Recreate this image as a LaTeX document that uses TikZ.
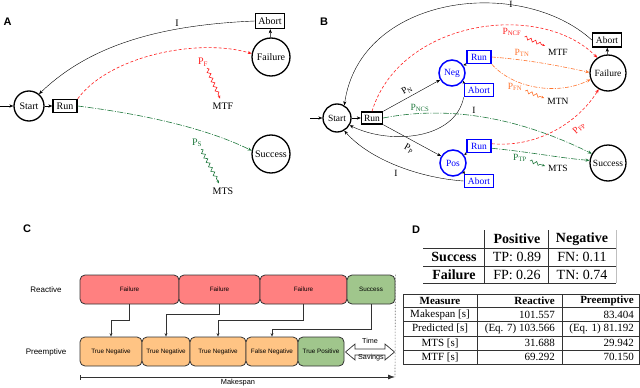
\documentclass[tikz,border=0pt]{standalone}
\usepackage{fontspec}
\setmainfont{Liberation Serif}
\newfontfamily\arialf{Liberation Sans}
\usetikzlibrary{arrows.meta,decorations.pathmorphing,calc}
\definecolor{cred}{RGB}{255,30,30}
\definecolor{cgreen}{RGB}{30,120,60}
\definecolor{corange}{RGB}{255,115,45}
\definecolor{fred}{RGB}{255,128,128}
\definecolor{fgreen}{RGB}{160,198,140}
\definecolor{forange}{RGB}{255,196,132}
\definecolor{cline}{RGB}{50,50,50}
\begin{document}
\begin{tikzpicture}[x=1pt,y=-1pt,
  >={Stealth[length=4pt,width=3.2pt]},
  panlab/.style={font=\arialf\bfseries\fontsize{11}{12}\selectfont},
  stA/.style={circle,draw,line width=1.3pt,inner sep=0pt,font=\fontsize{10}{11}\selectfont},
  bxA/.style={rectangle,draw,line width=1.4pt,inner sep=0pt,font=\fontsize{10}{11}\selectfont},
  stB/.style={circle,draw,line width=1.3pt,inner sep=0pt,font=\fontsize{9.5}{10}\selectfont},
  bxB/.style={rectangle,draw,line width=1.4pt,inner sep=0pt,font=\fontsize{9.5}{10}\selectfont},
  blc/.style={circle,draw=blue,text=blue,line width=1.5pt,inner sep=0pt,minimum size=26pt,font=\fontsize{9.5}{10}\selectfont},
  blb/.style={rectangle,draw=blue,text=blue,line width=1.6pt,inner sep=0pt,minimum height=13pt,font=\fontsize{9.5}{10}\selectfont},
  txA/.style={font=\fontsize{10}{11}\selectfont,inner sep=1pt},
  txB/.style={font=\fontsize{9.5}{10}\selectfont,inner sep=1pt},
  reddash/.style={cred,dash pattern=on 3pt off 2pt,line width=0.6pt},
  grndash/.style={cgreen,dash pattern=on 6pt off 1.5pt on 1pt off 1.5pt,line width=0.6pt},
  orgdash/.style={corange,dash pattern=on 4pt off 1.5pt on 1pt off 1.5pt,line width=0.6pt},
  snk/.style={decorate,decoration={snake,amplitude=1.6pt,segment length=5pt,post length=3pt},-{Stealth[length=3pt,width=2.6pt]},line width=0.6pt},
  sml/.style={-{Stealth[length=3pt,width=2.6pt]}},
  cbox/.style={rectangle,rounded corners=5pt,draw=cline,line width=0.8pt,minimum height=29pt,inner sep=0pt,font=\arialf\fontsize{6.3}{7}\selectfont},
  carr/.style={cline,line width=0.8pt,-{Stealth[length=3.5pt,width=3pt]}},
  tA/.style={font=\fontsize{14}{15}\selectfont,inner sep=0pt},
  tB/.style={font=\fontsize{11}{12}\selectfont,inner sep=0pt},
  tline/.style={line width=0.5pt,black!80}
]
\useasboundingbox (0,0) rectangle (640,388);

%%%%%%%%%%%%%%%% Panel A
\node[panlab] (labA) at (7.5,22) {A};
\node[stA,minimum size=30pt] (sA) at (29,106) {Start};
\node[bxA,minimum width=24pt,minimum height=13pt] (rA) at (65,106) {Run};
\node[stA,minimum size=38pt] (fA) at (271,57) {Failure};
\node[bxA,minimum width=29pt,minimum height=15pt] (aA) at (270,21) {Abort};
\node[stA,minimum size=38pt] (suA) at (271,154) {Success};
\coordinate (inA) at (0,106);
\draw[->] (inA) -- (sA);
\draw[->] (sA) -- (rA);
\draw[->] (fA) -- (aA);
\draw[->] (aA.west) .. controls (160,25) and (90,45) .. (sA.50);
\node[txA] (iA) at (177,23) {I};
\draw[->,reddash] (rA.north east) .. controls (110,55) and (200,38) .. (fA.170);
\draw[->,grndash] (rA.east) .. controls (150,115) and (210,130) .. (suA.170);
\node[txA,text=cred] (pfA) at (203,62) {P\textsubscript{F}};
\node[txA] (mtfA) at (223,106) {MTF};
\draw[snk,cred] ($(pfA.south)+(4,1)$) -- ($(mtfA.north)+(-3,-3)$);
\node[txA,text=cgreen] (psA) at (197,143) {P\textsubscript{S}};
\node[txA] (mtsA) at (223,191) {MTS};
\draw[snk,cgreen] ($(psA.south)+(4,1)$) -- ($(mtsA.north)+(-4,-3)$);

%%%%%%%%%%%%%%%% Panel B
\node[panlab] (labB) at (324,22) {B};
\node[stB,minimum size=28pt] (sB) at (337,118) {Start};
\node[bxB,minimum width=21pt,minimum height=12pt] (rB) at (372,118) {Run};
\node[blc] (neg) at (452,73) {Neg};
\node[blc] (pos) at (453,163) {Pos};
\node[blb,minimum width=24pt] (nrun) at (479,57) {Run};
\node[blb,minimum width=29pt] (nab) at (479,90) {Abort};
\node[blb,minimum width=24pt] (prun) at (479,146) {Run};
\node[blb,minimum width=29pt] (pab) at (479,181) {Abort};
\node[stB,minimum size=36pt] (fB) at (608,73) {Failure};
\node[bxB,minimum width=29pt,minimum height=14pt] (aB) at (607,40) {Abort};
\node[stB,minimum size=36pt] (suB) at (608,163) {Success};
\coordinate (inB) at (310,118);
\draw[->] (inB) -- (sB);
\draw[->] (sB) -- (rB);
\draw[->] (fB) -- (aB);
\draw[->] (aB.west) .. controls (520,-25) and (360,-5) .. (sB.60);
\node[txB] (iB1) at (511,4) {I};
\draw[->,reddash] (rB.north) .. controls (400,20) and (540,0) .. (fB.125);
\draw[->] (rB.north east) -- (neg.210);
\node[txB,rotate=30] (pn) at (407,90) {P\textsubscript{N}};
\draw[->] (rB.south east) -- (pos.150);
\node[txB,rotate=-30] (pp) at (409,149) {P\textsubscript{P}};
\draw[sml] (nrun.south west) -- (neg.35);
\draw[sml] (nab.north west) -- (neg.-35);
\draw[sml] (prun.south west) -- (pos.35);
\draw[sml] (pab.north west) -- (pos.-35);
\draw[->] (nab.south west) .. controls (455,140) and (390,145) .. (sB.-30);
\node[txB] (iB2) at (474,110) {I};
\draw[->] (pab.west) .. controls (420,178) and (370,160) .. (sB.-60);
\node[txB] (iB3) at (396,173) {I};
\draw[->,orgdash] (nrun.east) .. controls (530,60) and (560,66) .. (fB.178);
\draw[->,orgdash] (nrun.south east) .. controls (515,90) and (560,95) .. (fB.200);
\draw[->,reddash] (prun.10) .. controls (540,148) and (580,120) .. (fB.240);
\draw[->,grndash] (prun.-10) .. controls (530,152) and (560,158) .. (suB.172);
\draw[->,grndash] (rB.east) .. controls (450,105) and (520,118) .. (suB.150);
\node[txB,text=cred] (pncf) at (512,32) {P\textsubscript{NCF}};
\node[txB,text=corange] (ptn) at (522,53) {P\textsubscript{TN}};
\node[txB,text=corange] (pfn) at (515,87) {P\textsubscript{FN}};
\node[txB,text=cred,rotate=42] (pfp) at (579,128) {P\textsubscript{FP}};
\node[txB,text=cgreen] (ptp) at (520,158) {P\textsubscript{TP}};
\node[txB,text=cgreen] (pncs) at (420,108) {P\textsubscript{NCS}};
\node[txB] (mtfB) at (558,52) {MTF};
\node[txB] (mtnB) at (558,101) {MTN};
\node[txB] (mtsB) at (558,168) {MTS};
\draw[snk,cred] ($(pncf.east)+(2,5)$) -- ($(mtfB.west)+(-2,-6)$);
\draw[snk,corange] ($(pfn.east)+(2,4)$) -- ($(mtnB.west)+(-2,-3)$);
\draw[snk,cgreen] ($(ptp.east)+(2,3)$) -- ($(mtsB.west)+(-2,-2)$);

%%%%%%%%%%%%%%%% Panel C
\node[panlab] (labC) at (27,229) {C};
\node[font=\arialf\fontsize{8}{9}\selectfont] (reac) at (46,290) {Reactive};
\node[font=\arialf\fontsize{8}{9}\selectfont] (pree) at (46,352) {Preemptive};
\node[cbox,fill=fred,minimum width=99pt] (f1) at (129.5,289.5) {Failure};
\node[cbox,fill=fred,minimum width=81pt] (f2) at (219.5,289.5) {Failure};
\node[cbox,fill=fred,minimum width=87pt] (f3) at (303.5,289.5) {Failure};
\node[cbox,fill=fgreen,minimum width=48pt] (sc) at (371,289.5) {Success};
\node[cbox,fill=forange,minimum width=62pt] (tn1) at (111,351.5) {True Negative};
\node[cbox,fill=forange,minimum width=48pt] (tn2) at (166,351.5) {True Negative};
\node[cbox,fill=forange,minimum width=56pt] (tn3) at (218,351.5) {True Negative};
\node[cbox,fill=forange,minimum width=52pt] (fn) at (272,351.5) {False Negative};
\node[cbox,fill=fgreen,minimum width=46pt] (tp) at (321,351.5) {True Positive};
\draw[carr] (f1.south) -- ++(0,16) -| (tn1.north);
\draw[carr] (f2.south) -- ++(0,10) -| (tn2.north);
\draw[carr] (f3.south) -- ++(0,16) -| (tn3.north);
\draw[carr] (sc.south) -- ++(0,25) -| (fn.north);
\draw[cline,line width=0.7pt,fill=white]
  (345.5,352) -- (355,344) -- (355,349) -- (385,349) -- (385,344) -- (394.5,352)
  -- (385,360) -- (385,355) -- (355,355) -- (355,360) -- cycle;
\node[font=\arialf\fontsize{7.2}{8}\selectfont,inner sep=0.5pt] (time) at (370,341) {Time};
\node[font=\arialf\fontsize{7.2}{8}\selectfont,inner sep=0.5pt] (sav) at (371,358) {Savings};
\coordinate (ms0) at (80,377);
\coordinate (ms1) at (395,377);
\draw[cline!70,line width=0.6pt,dash pattern=on 1.5pt off 1.5pt] (sc.north east) -- (ms1);
\draw[cline,line width=0.8pt,{Bar[width=5pt]}-{Latex[length=7pt,width=5pt]}] (ms0) -- (ms1);
\node[font=\arialf\fontsize{7.4}{8}\selectfont] (msl) at (238,383) {Makespan};

%%%%%%%%%%%%%%%% Panel D
\node[panlab] (labD) at (416,230) {D};
% table 1
\draw[tline] (484,230) -- (484,283);
\draw[tline] (548,230) -- (548,283);
\draw[tline] (423,248) -- (616,248);
\draw[tline] (423,266) -- (616,266);
\draw[tline] (423,283) -- (616,283);
\draw[black!25,line width=1pt] (616.5,230) -- (616.5,283);
\node[tA,font=\bfseries\fontsize{14}{15}\selectfont] (hpos) at (517,239) {Positive};
\node[tA,font=\bfseries\fontsize{14}{15}\selectfont] (hneg) at (582,239) {Negative};
\node[tA,font=\bfseries\fontsize{14}{15}\selectfont] (rsucc) at (454,257) {Success};
\node[tA,font=\bfseries\fontsize{14}{15}\selectfont] (rfail) at (454,275) {Failure};
\node[tA] (ctp) at (517,257) {TP: 0.89};
\node[tA] (cfn) at (582,257) {FN: 0.11};
\node[tA] (cfp) at (517,275) {FP: 0.26};
\node[tA] (ctn) at (582,275) {TN: 0.74};
% table 2
\draw[tline] (403,294) rectangle (639,364);
\draw[tline] (477,294) -- (477,364);
\draw[tline] (562,294) -- (562,364);
\draw[tline] (403,307) -- (639,307);
\draw[tline] (403,321) -- (639,321);
\draw[tline] (403,336) -- (639,336);
\draw[tline] (403,350) -- (639,350);
\node[tB,font=\bfseries\fontsize{11}{12}\selectfont] (hm) at (440,301) {Measure};
\node[tB,font=\bfseries\fontsize{11}{12}\selectfont,anchor=east] (hr) at (555,301) {Reactive};
\node[tB,font=\bfseries\fontsize{11}{12}\selectfont,anchor=east] (hp) at (634,301) {Preemptive};
\node[tB] (m1) at (440,314.5) {Makespan [s]};
\node[tB,anchor=east] (r1) at (555,314.5) {101.557};
\node[tB,anchor=east] (p1) at (634,314.5) {83.404};
\node[tB] (m2) at (440,328.5) {Predicted [s]};
\node[tB,anchor=east] (r2) at (555,328.5) {(Eq. 7) 103.566};
\node[tB,anchor=east] (p2) at (634,328.5) {(Eq. 1) 81.192};
\node[tB] (m3) at (440,343) {MTS [s]};
\node[tB,anchor=east] (r3) at (555,343) {31.688};
\node[tB,anchor=east] (p3) at (634,343) {29.942};
\node[tB] (m4) at (440,357) {MTF [s]};
\node[tB,anchor=east] (r4) at (555,357) {69.292};
\node[tB,anchor=east] (p4) at (634,357) {70.150};
\end{tikzpicture}
\end{document}
